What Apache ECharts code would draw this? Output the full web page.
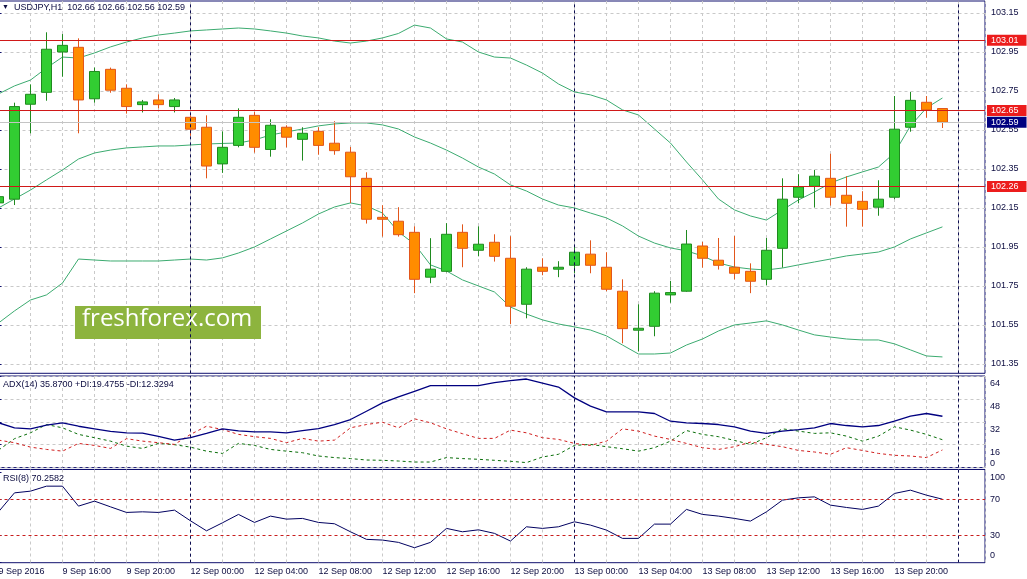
<!DOCTYPE html>
<html>
<head>
<meta charset="utf-8">
<title>USDJPY H1</title>
<script src="https://cdn.jsdelivr.net/npm/echarts@6/dist/echarts.min.js"></script>
<style>
  html, body { margin: 0; padding: 0; background: #fff; }
  #chart { width: 1027px; height: 579px; }
</style>
</head>
<body>
<div id="chart"></div>
<script>
// USDJPY, H1 - one entry per bar, 9 Sep 12:00 ... 13 Sep 23:00
var opens = [102.176,102.195,102.682,102.743,102.950,102.974,102.710,102.861,102.764,102.680,
  102.704,102.670,102.615,102.564,102.376,102.471,102.625,102.450,102.564,102.502,
  102.543,102.482,102.436,102.302,102.102,102.082,102.025,101.795,101.825,102.025,
  101.933,101.974,101.892,101.656,101.846,101.836,101.856,101.913,101.846,101.723,
  101.523,101.543,101.704,101.723,101.955,101.882,101.846,101.825,101.784,101.943,
  102.205,102.261,102.302,102.215,102.184,102.154,102.205,102.564,102.692,102.660];
var closes = [102.208,102.670,102.733,102.964,102.984,102.704,102.850,102.754,102.670,102.694,
  102.680,102.704,102.554,102.365,102.461,102.615,102.461,102.574,102.513,102.533,
  102.471,102.444,102.310,102.092,102.092,102.013,101.784,101.836,102.015,101.943,
  101.964,101.902,101.646,101.836,101.825,101.846,101.923,101.856,101.733,101.531,
  101.533,101.713,101.716,101.965,101.892,101.856,101.815,101.774,101.933,102.195,
  102.258,102.313,102.205,102.174,102.143,102.195,102.554,102.702,102.653,102.590];
var lows = [102.150,102.165,102.533,102.700,102.823,102.533,102.690,102.741,102.634,102.640,
  102.660,102.640,102.520,102.302,102.330,102.461,102.434,102.413,102.461,102.393,
  102.423,102.423,102.174,102.070,102.003,102.003,101.713,101.764,101.820,101.846,
  101.902,101.875,101.554,101.584,101.805,101.795,101.815,101.815,101.723,101.456,
  101.415,101.492,101.664,101.720,101.844,101.834,101.784,101.713,101.754,101.844,
  102.174,102.152,102.162,102.054,102.054,102.110,102.195,102.541,102.613,102.560];
var highs = [102.215,102.690,102.784,103.051,103.042,103.020,102.870,102.870,102.784,102.704,
  102.733,102.714,102.625,102.625,102.543,102.661,102.642,102.605,102.574,102.564,
  102.564,102.595,102.463,102.333,102.164,102.154,102.056,101.995,102.072,102.066,
  102.056,102.015,102.005,101.846,101.892,101.877,101.952,101.984,101.923,101.784,
  101.656,101.723,101.776,102.037,101.976,101.996,102.006,101.866,101.996,102.302,
  102.323,102.345,102.428,102.313,102.236,102.292,102.724,102.745,102.724,102.660];

// Bollinger bands
var bbUpper = [102.735,102.776,102.806,102.868,102.924,102.919,102.945,102.976,103.001,103.022,
  103.037,103.047,103.058,103.063,103.068,103.073,103.068,103.058,103.047,103.032,
  103.022,103.006,102.996,103.006,103.022,103.045,103.088,103.073,103.017,103.001,
  102.950,102.924,102.919,102.883,102.842,102.786,102.745,102.730,102.704,102.653,
  102.627,102.555,102.483,102.386,102.294,102.196,102.140,102.109,102.088,102.140,
  102.191,102.232,102.278,102.309,102.335,102.360,102.432,102.571,102.663,102.714];
var bbMiddle = [102.150,102.196,102.242,102.294,102.345,102.401,102.432,102.447,102.458,102.463,
  102.468,102.468,102.473,102.478,102.481,102.483,102.499,102.524,102.540,102.555,
  102.571,102.581,102.586,102.586,102.576,102.555,102.514,102.483,102.447,102.406,
  102.360,102.324,102.268,102.237,102.196,102.165,102.150,102.124,102.099,102.058,
  102.006,101.970,101.945,101.930,101.904,101.868,101.847,101.837,101.832,101.842,
  101.858,101.873,101.888,101.904,101.914,101.924,101.950,101.991,102.022,102.053];
var bbLower = [101.560,101.622,101.678,101.704,101.765,101.888,101.883,101.878,101.878,101.878,
  101.878,101.883,101.888,101.883,101.894,101.919,101.950,101.991,102.032,102.073,
  102.119,102.155,102.176,102.160,102.124,102.027,101.965,101.858,101.827,101.781,
  101.750,101.719,101.642,101.606,101.576,101.555,101.540,101.524,101.494,101.447,
  101.401,101.401,101.406,101.447,101.478,101.519,101.550,101.560,101.571,101.550,
  101.524,101.499,101.488,101.478,101.473,101.473,101.453,101.422,101.391,101.386];

// ADX(14)
var adx = [31.3,27.8,27.1,29.7,31.3,28.9,27.1,25.3,24.3,24.1,
  21.8,19.2,20.9,23.9,27.1,25.7,25.0,25.0,24.3,25.9,
  27.3,30.1,33.6,39.4,45.2,49.4,53.3,57.3,57.3,57.3,
  57.3,59.3,60.7,61.9,59.1,56.3,48.7,42.9,38.9,38.9,
  38.9,37.8,32.4,31.3,30.8,30.1,28.5,25.5,23.9,25.5,
  26.6,27.8,30.8,29.4,28.5,29.4,32.4,35.9,37.8,35.87];
var plusDI = [12.2,20.2,24.3,30.1,27.8,23.2,20.9,18.5,15.0,13.4,
  16.9,16.0,14.3,11.5,9.9,16.9,15.5,12.7,11.5,10.4,
  8.1,7.0,6.3,5.3,5.1,4.6,3.9,3.9,7.0,6.3,
  5.8,5.1,4.4,3.5,7.4,9.3,15.5,16.2,14.6,13.2,
  11.5,13.9,18.5,25.9,23.2,21.6,19.0,16.2,20.9,27.1,
  25.5,23.9,24.3,22.0,18.5,22.0,28.5,26.2,23.2,19.4755];
var minusDI = [19.2,17.4,14.3,12.7,11.5,16.9,15.5,13.4,20.2,18.5,
  17.4,16.2,23.2,28.9,26.6,23.2,21.6,20.4,17.4,20.4,
  18.5,19.2,27.8,30.1,31.7,27.8,34.1,31.3,27.1,23.7,
  20.4,20.4,26.2,24.3,20.9,19.7,16.9,15.5,18.5,27.1,
  25.5,22.0,19.7,16.9,13.9,12.7,14.6,17.8,16.2,14.6,
  12.0,10.9,9.3,13.9,12.0,9.9,8.6,8.1,7.0,12.3294];

// RSI(8)
var rsi = [56.1,77.4,79.3,84.9,84.9,62.5,68.1,61.7,55.4,56.1,
  55.4,58.0,46.0,34.8,43.8,53.2,44.2,51.3,47.9,48.7,
  44.2,42.7,33.7,25.2,24.4,21.8,15.8,21.8,37.5,33.7,
  35.9,31.9,23.3,39.3,37.5,39.3,44.9,41.2,35.6,26.3,
  26.3,42.3,42.3,58.8,53.2,51.3,48.7,45.7,56.1,69.2,
  71.8,72.9,63.6,61.0,58.8,62.5,76.7,80.4,74.8,70.2582];

// time labels, one every 4 bars starting with bar 0
var tickLabels = ['9 Sep 2016','9 Sep 16:00','9 Sep 20:00','12 Sep 00:00','12 Sep 04:00',
  '12 Sep 08:00','12 Sep 12:00','12 Sep 16:00','12 Sep 20:00','13 Sep 00:00','13 Sep 04:00',
  '13 Sep 08:00','13 Sep 12:00','13 Sep 16:00','13 Sep 20:00'];
var daySeparators = [12, 36, 60];
var priceTicks = [101.35,101.55,101.75,101.95,102.15,102.35,102.55,102.75,102.95,103.15];
var levels = [103.01, 102.65, 102.26];
var bidPrice = 102.59;
var adxBottomTick = [0];
var rsiTicks = [0, 30, 70, 100];
var rsiLevels = [70, 30];

var FONT = 'Liberation Sans';
var TXT = '#0c0c40';
var FRAME = '#10106e';
var GRIDC = '#c9c9c9';
var SEP = '#0c0c50';

function pairs(arr) {
  return arr.map(function (v, i) { return [i, v]; });
}
var candles = opens.map(function (o, i) { return [i, o, closes[i], lows[i], highs[i]]; });
var last = candles.length - 1;

function xAxisFor(gi, labels) {
  return {
    type: 'value', gridIndex: gi, min: 0, max: 61.66, interval: 2,
    axisLine: { show: false }, axisTick: { show: false },
    axisLabel: {
      show: labels, align: 'left', margin: 4, color: TXT, fontSize: 9, fontFamily: FONT,
      formatter: function (v) { return v % 4 === 0 ? (tickLabels[v / 4] || '') : ''; }
    },
    splitLine: { show: true, lineStyle: { color: GRIDC, type: [3, 3], width: 1 } }
  };
}

function sepMarks() {
  return daySeparators.map(function (d) {
    return { xAxis: d, lineStyle: { color: SEP, type: [3, 3], width: 1 }, label: { show: false } };
  });
}

function priceBox(v, bg) {
  return {
    show: true, position: 'end', distance: 2, formatter: v.toFixed(2),
    backgroundColor: bg, color: '#fff', fontSize: 9, fontFamily: FONT,
    lineHeight: 10, padding: [1, 8, 0, 4]
  };
}

var mainMarks = [{ yAxis: bidPrice, lineStyle: { color: '#c4c4c4', type: 'solid', width: 1 },
  label: priceBox(bidPrice, '#000080') }];
levels.forEach(function (v) {
  mainMarks.push({ yAxis: v, lineStyle: { color: '#d01818', type: 'solid', width: 1 },
    label: priceBox(v, '#ec1c1c') });
});
mainMarks = mainMarks.concat(sepMarks());

var rsiMarks = rsiLevels.map(function (v) {
  return { yAxis: v, lineStyle: { color: '#c81e1e', type: [3, 3], width: 1 }, label: { show: false } };
}).concat(sepMarks());

var gridBase = { left: -1.5, width: 986.5, show: true, borderColor: FRAME, borderWidth: 1,
  containLabel: false, outerBoundsMode: 'none' };

var chart = echarts.init(document.getElementById('chart'), null, { renderer: 'canvas' });
var option = {
  animation: false,
  backgroundColor: '#ffffff',
  textStyle: { fontFamily: FONT },
  title: [
    { text: '{t|▼}  USDJPY,H1  ' + opens[last].toFixed(2) + ' ' + highs[last].toFixed(2) + ' ' +
        lows[last].toFixed(2) + ' ' + closes[last].toFixed(2),
      left: 2, top: 3, padding: 0,
      textStyle: { fontSize: 9, fontWeight: 'normal', color: TXT, fontFamily: FONT,
        rich: { t: { fontSize: 7, color: TXT } } } },
    { text: 'ADX(14) ' + adx[last].toFixed(4) + ' +DI:' + plusDI[last].toFixed(4) +
        ' -DI:' + minusDI[last].toFixed(4),
      left: 3, top: 380, padding: 0,
      textStyle: { fontSize: 9, fontWeight: 'normal', color: TXT, fontFamily: FONT } },
    { text: 'RSI(8) ' + rsi[last].toFixed(4),
      left: 3, top: 474, padding: 0,
      textStyle: { fontSize: 9, fontWeight: 'normal', color: TXT, fontFamily: FONT } }
  ],
  grid: [
    Object.assign({ top: 1, height: 372.3 }, gridBase),
    Object.assign({ top: 376, height: 91.6 }, gridBase),
    Object.assign({ top: 469.5, height: 93.2 }, gridBase)
  ],
  xAxis: [xAxisFor(0, false), xAxisFor(1, false), xAxisFor(2, true)],
  yAxis: [
    { type: 'value', gridIndex: 0, position: 'right', min: 101.302, max: 103.2115,
      axisLine: { show: false },
      axisTick: { show: true, customValues: priceTicks, length: 3, lineStyle: { color: FRAME } },
      axisLabel: { customValues: priceTicks, margin: 6, color: TXT, fontSize: 9, fontFamily: FONT,
        formatter: function (v) { return v.toFixed(2); } },
      splitLine: { show: true, lineStyle: { color: GRIDC, type: [3, 3], width: 1 } } },
    // ADX scale: labels sit just below their level, as in the terminal
    { type: 'value', gridIndex: 1, position: 'right', min: 0, max: 64, interval: 16,
      axisLine: { show: false },
      axisTick: { show: true, length: 3, lineStyle: { color: FRAME } },
      axisLabel: { margin: 5, color: TXT, fontSize: 9, fontFamily: FONT,
        showMinLabel: false, showMaxLabel: true,
        formatter: function (v) { return '{t|' + v + '}'; },
        rich: { t: { padding: [15, 0, 0, 0], fontSize: 9, color: TXT, fontFamily: FONT } } },
      splitLine: { show: true, lineStyle: { color: GRIDC, type: [3, 3], width: 1 } } },
    { type: 'value', gridIndex: 2, position: 'right', min: -1, max: 103.6,
      axisLine: { show: false },
      axisTick: { show: true, customValues: rsiTicks, length: 3, lineStyle: { color: FRAME } },
      axisLabel: { customValues: rsiTicks, margin: 5, color: TXT, fontSize: 9, fontFamily: FONT,
        showMinLabel: true, showMaxLabel: true,
        formatter: function (v) {
          if (v === 100) return '{t|100}';
          if (v === 0) return '{b|0}';
          return '{m|' + v + '}';
        },
        rich: { t: { padding: [10, 0, 0, 0], fontSize: 9, color: TXT, fontFamily: FONT },
                b: { padding: [0, 0, 12, 0], fontSize: 9, color: TXT, fontFamily: FONT },
                m: { fontSize: 9, color: TXT, fontFamily: FONT } } },
      splitLine: { show: false } },
    // ADX bottom label "0", lifted above the panel floor
    { type: 'value', gridIndex: 1, position: 'right', min: 0, max: 64,
      axisLine: { show: false }, axisTick: { show: false }, splitLine: { show: false },
      axisLabel: { customValues: adxBottomTick, margin: 5, color: TXT, fontSize: 9, fontFamily: FONT,
        showMinLabel: true, verticalAlign: 'bottom' } }
  ],
  graphic: [
    { type: 'rect', left: 75, top: 306, shape: { width: 186, height: 33 },
      style: { fill: '#8db43e' }, z: 1 },
    { type: 'text', left: 82, top: 307, z: 2,
      style: { text: 'freshforex.com', fill: '#ffffff', font: '24px "Open Sans"' } }
  ],
  series: [
    { name: 'USDJPY', type: 'candlestick', xAxisIndex: 0, yAxisIndex: 0,
      data: candles, encode: { x: 0, y: [1, 2, 3, 4] }, barWidth: 10, z: 3,
      itemStyle: { color: '#32cd32', color0: '#ff8c00', borderColor: '#1f8a1f',
        borderColor0: '#e2561b', borderWidth: 1 },
      markLine: { silent: true, symbol: ['none', 'none'], animation: false, data: mainMarks } },
    { name: 'BB upper', type: 'line', xAxisIndex: 0, yAxisIndex: 0, data: pairs(bbUpper),
      symbol: 'none', lineStyle: { color: '#3cab70', width: 1 }, z: 2 },
    { name: 'BB middle', type: 'line', xAxisIndex: 0, yAxisIndex: 0, data: pairs(bbMiddle),
      symbol: 'none', lineStyle: { color: '#3cab70', width: 1 }, z: 2 },
    { name: 'BB lower', type: 'line', xAxisIndex: 0, yAxisIndex: 0, data: pairs(bbLower),
      symbol: 'none', lineStyle: { color: '#3cab70', width: 1 }, z: 2 },
    { name: 'ADX', type: 'line', xAxisIndex: 1, yAxisIndex: 1, data: pairs(adx),
      symbol: 'none', lineStyle: { color: '#000080', width: 1.3 }, z: 3,
      markLine: { silent: true, symbol: ['none', 'none'], animation: false, data: sepMarks() } },
    { name: '+DI', type: 'line', xAxisIndex: 1, yAxisIndex: 1, data: pairs(plusDI),
      symbol: 'none', lineStyle: { color: '#0a6e0a', width: 1, type: [3, 3] }, z: 2 },
    { name: '-DI', type: 'line', xAxisIndex: 1, yAxisIndex: 1, data: pairs(minusDI),
      symbol: 'none', lineStyle: { color: '#d02020', width: 1, type: [3, 3] }, z: 2 },
    { name: 'RSI', type: 'line', xAxisIndex: 2, yAxisIndex: 2, data: pairs(rsi),
      symbol: 'none', lineStyle: { color: '#000060', width: 1 }, z: 3,
      markLine: { silent: true, symbol: ['none', 'none'], animation: false, data: rsiMarks } }
  ]
};
chart.setOption(option);
</script>
</body>
</html>
